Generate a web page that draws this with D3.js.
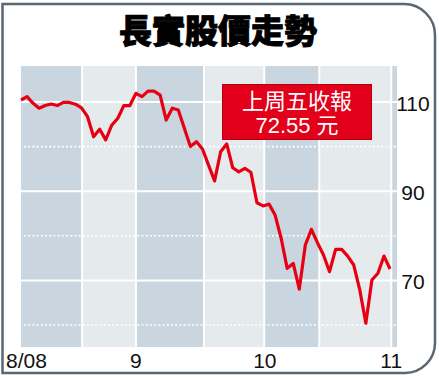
<!DOCTYPE html>
<html>
<head>
<meta charset="utf-8">
<script src="https://cdn.jsdelivr.net/npm/d3@7"></script>
<style>
  html, body { margin: 0; padding: 0; background: #fff; }
  svg { display: block; }
</style>
</head>
<body>
<div id="chart"></div>
<script>
// 長實 daily closes, one per trading day (8/08 to end of 10/08)
var closes = [
  110.45, 111.2, 109.7, 108.6, 109.2, 109.55, 109.2, 109.9, 109.9, 109.5,
  108.7, 106.7, 102.2, 103.9, 101.5, 104.8, 106.35, 109.2, 109.2, 111.95,
  111.2, 112.45, 112.45, 111.55, 105.95, 108.6, 108.2, 104.1, 100.0, 101.1,
  99.45, 95.85, 92.3, 98.85, 100.6, 95.25, 94.35, 95.1, 94.25, 87.4,
  86.7, 87.1, 84.65, 79.45, 72.7, 73.8, 68.05, 77.95, 81.45, 78.45,
  75.7, 71.95, 76.95, 76.95, 75.45, 73.45, 67.85, 60.4, 70.1, 71.6,
  75.45, 72.55
];

// shaded bands (edges in trading-day index)
var bandEdges = [0, 10.1, 19, 30.25, 40.2, 49.3, 61.2, 62.15];
var monthTicks = [0.9, 19, 40.3, 61.2];
var monthLabels = ["8/08", "9", "10", "11"];

var solidTicks = [110, 90, 70];
var dottedTicks = [100, 80, 60];

var titleText = "長實股價走勢";
var noteLines = ["上周五收報", "72.55 元"];

var W = 439, H = 379;
var svg = d3.select("#chart")
    .append("svg")
    .attr("width", W)
    .attr("height", H);

// scales
var xScale = d3.scaleLinear().domain([0, 62.15]).range([21, 397]);
var yScale = d3.scaleLinear().domain([60, 110]).range([325, 102]);
var plotTop = 66, plotBottom = 347;

// outer frame, rounded on the right
svg.append("path")
    .attr("d", "M2.5,373 L2.5,4 L404,4 A31,31 0 0 1 435,35 L435,343 A30,30 0 0 1 405,373 Z")
    .style("fill", "none")
    .style("stroke", "#5b6774")
    .style("stroke-width", 2.5);

// title (stroke to fake a heavier face)
svg.append("text")
    .attr("x", 218)
    .attr("y", 43)
    .attr("text-anchor", "middle")
    .style("font-family", "'Noto Sans CJK TC', 'Noto Sans CJK SC', sans-serif")
    .style("font-weight", 900)
    .style("font-size", "33px")
    .style("fill", "#000")
    .style("stroke", "#000")
    .style("stroke-width", 0.9)
    .text(titleText);

// bands
var bands = d3.pairs(bandEdges);
svg.selectAll(".band")
    .data(bands)
    .enter().append("rect")
    .attr("class", "band")
    .attr("x", function(d) { return xScale(d[0]); })
    .attr("y", plotTop)
    .attr("width", function(d) { return xScale(d[1]) - xScale(d[0]); })
    .attr("height", plotBottom - plotTop)
    .style("fill", function(d, i) { return i % 2 === 0 ? "#c9d6df" : "#e5eaed"; });

// dotted grid
svg.selectAll(".dotgrid")
    .data(dottedTicks)
    .enter().append("line")
    .attr("class", "dotgrid")
    .attr("x1", xScale(0) + 3)
    .attr("x2", xScale(62.15))
    .attr("y1", function(d) { return yScale(d); })
    .attr("y2", function(d) { return yScale(d); })
    .style("stroke", "#fff")
    .style("stroke-width", 1.6)
    .style("stroke-dasharray", "2,2.2");

// solid grid
svg.selectAll(".grid")
    .data(solidTicks)
    .enter().append("line")
    .attr("class", "grid")
    .attr("x1", xScale(0))
    .attr("x2", xScale(62.15))
    .attr("y1", function(d) { return yScale(d); })
    .attr("y2", function(d) { return yScale(d); })
    .style("stroke", "#fff")
    .style("stroke-width", 2);

// vertical separators between bands
svg.selectAll(".sep")
    .data(bandEdges.slice(1, -1))
    .enter().append("line")
    .attr("class", "sep")
    .attr("x1", function(d) { return xScale(d); })
    .attr("x2", function(d) { return xScale(d); })
    .attr("y1", plotTop)
    .attr("y2", plotBottom)
    .style("stroke", "#fff")
    .style("stroke-width", 2);

// price line
var line = d3.line()
    .x(function(d, i) { return xScale(i); })
    .y(function(d) { return yScale(d); });

svg.append("path")
    .datum(closes)
    .attr("d", line)
    .style("fill", "none")
    .style("stroke", "#e60012")
    .style("stroke-width", 3.2)
    .style("stroke-linejoin", "round");

// note box
var note = svg.append("g").attr("transform", "translate(222.5,84.5)");
note.append("rect")
    .attr("width", 149)
    .attr("height", 55)
    .style("fill", "#e2001a")
    .style("stroke", "#b3000f")
    .style("stroke-width", 1);
note.selectAll("text")
    .data(noteLines)
    .enter().append("text")
    .attr("x", 74.5)
    .attr("y", function(d, i) { return 24 + i * 24; })
    .attr("text-anchor", "middle")
    .style("font-family", "'Liberation Sans', 'Noto Sans CJK TC', sans-serif")
    .style("font-size", "22px")
    .style("fill", "#fff")
    .text(function(d) { return d; });

// right axis labels
svg.selectAll(".ylab")
    .data(solidTicks)
    .enter().append("text")
    .attr("class", "ylab")
    .attr("x", 413)
    .attr("y", function(d) { return yScale(d) + 9; })
    .attr("text-anchor", "middle")
    .style("font-family", "'Liberation Sans', Arial, sans-serif")
    .style("font-size", "21px")
    .style("fill", "#111")
    .text(function(d) { return d; });

// month labels
svg.selectAll(".xlab")
    .data(monthTicks)
    .enter().append("text")
    .attr("class", "xlab")
    .attr("x", function(d) { return xScale(d); })
    .attr("y", 367.5)
    .attr("text-anchor", "middle")
    .style("font-family", "'Liberation Sans', Arial, sans-serif")
    .style("font-size", "21px")
    .style("fill", "#111")
    .text(function(d, i) { return monthLabels[i]; });
</script>
</body>
</html>
